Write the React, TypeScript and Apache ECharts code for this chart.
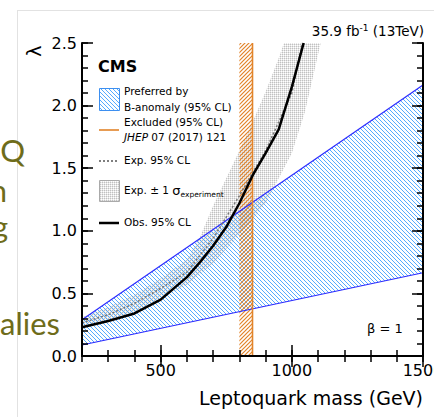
import React, { useEffect, useRef } from "react";
import * as echarts from "echarts";

// ---- data ----
const bandMass = [200, 1500];
const bandUpper = [0.29, 2.165];
const bandLower = [0.088, 0.665];

const excludedMass = [800, 850];

const obsMass = [200, 300, 400, 500, 600, 650, 700, 750, 800, 850, 900, 950, 1000, 1045];
const obsLambda = [0.23, 0.28, 0.34, 0.45, 0.63, 0.75, 0.88, 1.03, 1.22, 1.44, 1.62, 1.81, 2.15, 2.5];

const expMass = [200, 300, 400, 500, 600, 700, 800, 900, 1000, 1040];
const expLambda = [0.265, 0.33, 0.42, 0.54, 0.67, 0.94, 1.28, 1.64, 2.1, 2.5];

const sigUpMass = [200, 300, 400, 500, 600, 650, 700, 750, 800, 850, 900, 950, 970];
const sigUp = [0.31, 0.39, 0.49, 0.62, 0.77, 0.95, 1.2, 1.42, 1.64, 1.87, 2.11, 2.38, 2.5];
const sigDownMass = [200, 300, 400, 500, 600, 700, 800, 900, 1000, 1050, 1110];
const sigDown = [0.22, 0.28, 0.35, 0.46, 0.57, 0.74, 0.97, 1.22, 1.62, 1.95, 2.5];

const xMajorTicks = [500, 1000, 1500];

const FONT = "DejaVu Sans";

function hatch(color: string, n: number, dir: "back" | "fwd", lw: number) {
  const c = document.createElement("canvas");
  c.width = n;
  c.height = n;
  const ctx = c.getContext("2d")!;
  ctx.strokeStyle = color;
  ctx.lineWidth = lw;
  for (let k = -2; k <= 2; k++) {
    ctx.beginPath();
    if (dir === "back") {
      ctx.moveTo(k * n - n, -n);
      ctx.lineTo(k * n + 2 * n, 2 * n);
    } else {
      ctx.moveTo(k * n - n, 2 * n);
      ctx.lineTo(k * n + 2 * n, -n);
    }
    ctx.stroke();
  }
  return { image: c, repeat: "repeat", imageWidth: n, imageHeight: n } as any;
}

function dots() {
  const c = document.createElement("canvas");
  c.width = 2;
  c.height = 2;
  const ctx = c.getContext("2d")!;
  ctx.fillStyle = "rgba(160,160,160,0.65)";
  ctx.fillRect(0, 0, 1, 1);
  ctx.fillStyle = "rgba(200,200,200,0.45)";
  ctx.fillRect(1, 0, 1, 1);
  ctx.fillRect(0, 1, 1, 1);
  return { image: c, repeat: "repeat", imageWidth: 2, imageHeight: 2 } as any;
}

export default function App() {
  const ref = useRef<HTMLDivElement>(null);
  useEffect(() => {
    if (!ref.current) return;
    const chart = echarts.init(ref.current, undefined, { renderer: "svg" });
    const blueHatch = hatch("#42a2ff", 4, "back", 0.9);
    const orangeHatch = hatch("#e2842a", 4, "fwd", 1.2);
    const grayDots = dots();

    const polySeries = (pts: number[][], fill: any, z: number) => ({
      type: "custom",
      coordinateSystem: "cartesian2d",
      xAxisIndex: 0,
      yAxisIndex: 0,
      data: [[pts[0][0], pts[0][1]]],
      encode: { x: 0, y: 1 },
      clip: true,
      silent: true,
      z,
      renderItem: (_p: any, api: any) => ({
        type: "polygon",
        shape: { points: pts.map((p) => api.coord(p)) },
        style: { fill, stroke: "none" },
      }),
    });

    const bandPts = [
      ...bandMass.map((m, i) => [m, bandUpper[i]]),
      ...bandMass.map((m, i) => [m, bandLower[i]]).reverse(),
    ];
    const sigPts = [
      ...sigUpMass.map((m, i) => [m, sigUp[i]]),
      ...sigDownMass.map((m, i) => [m, sigDown[i]]).reverse(),
    ];
    const exclPts = [
      [excludedMass[0], 0],
      [excludedMass[1], 0],
      [excludedMass[1], 2.5],
      [excludedMass[0], 2.5],
    ];

    const gridRect = { left: 82, top: 43, width: 341, height: 313, outerBoundsMode: "none", containLabel: false };
    const minorTick = { show: true, inside: true, length: 6, lineStyle: { color: "#000", width: 1.5 } };
    const majorTick = { show: true, inside: true, length: 11, lineStyle: { color: "#000", width: 1.5 } };
    const frameLine = { show: true, lineStyle: { color: "#000", width: 2 } };
    const lbl = { fontFamily: FONT, fontSize: 16, color: "#000" };

    const xBase = { type: "value", min: 200, max: 1500, splitLine: { show: false }, z: 10 };
    const yBase = { type: "value", min: 0, max: 2.5, splitLine: { show: false }, z: 10 };

    const text = (t: string, x: number, y: number, extra: any = {}) => ({
      type: "text",
      x,
      y,
      z: 100,
      style: {
        text: t,
        fontFamily: FONT,
        fontSize: 10.5,
        fill: "#000",
        align: "left",
        verticalAlign: "middle",
        ...extra,
      },
    });
    const olive = (t: string, x: number, y: number) => ({
      type: "text",
      x,
      y,
      z: 100,
      style: { text: t, fontFamily: "Lato", fontSize: 31, fill: "#6e6c1a", align: "right", verticalAlign: "middle" },
    });

    const option: any = {
      animation: false,
      backgroundColor: "#fff",
      grid: [gridRect, { ...gridRect }],
      xAxis: [
        { ...xBase, gridIndex: 0, position: "bottom", interval: 100, axisLine: frameLine, axisTick: minorTick, axisLabel: { show: false } },
        { ...xBase, gridIndex: 0, position: "top", interval: 100, axisLine: frameLine, axisTick: minorTick, axisLabel: { show: false } },
        {
          ...xBase,
          gridIndex: 1,
          position: "bottom",
          axisLine: { show: false },
          axisTick: { ...majorTick, customValues: xMajorTicks },
          axisLabel: {
            ...lbl,
            margin: 6,
            customValues: xMajorTicks,
            showMaxLabel: true,
            showMinLabel: true,
            formatter: (v: number) => String(Math.round(v)),
          },
        },
        {
          ...xBase,
          gridIndex: 1,
          position: "top",
          axisLine: { show: false },
          axisTick: { ...majorTick, customValues: xMajorTicks },
          axisLabel: { show: false },
        },
      ],
      yAxis: [
        { ...yBase, gridIndex: 0, position: "left", interval: 0.1, axisLine: frameLine, axisTick: minorTick, axisLabel: { show: false } },
        { ...yBase, gridIndex: 0, position: "right", interval: 0.1, axisLine: frameLine, axisTick: minorTick, axisLabel: { show: false } },
        {
          ...yBase,
          gridIndex: 1,
          position: "left",
          interval: 0.5,
          axisLine: { show: false },
          axisTick: majorTick,
          axisLabel: { ...lbl, margin: 5, formatter: (v: number) => v.toFixed(1) },
        },
        { ...yBase, gridIndex: 1, position: "right", interval: 0.5, axisLine: { show: false }, axisTick: majorTick, axisLabel: { show: false } },
      ],
      series: [
        polySeries(sigPts, grayDots, 1),
        polySeries(bandPts, blueHatch, 2),
        {
          type: "line",
          xAxisIndex: 0,
          yAxisIndex: 0,
          data: bandMass.map((m, i) => [m, bandUpper[i]]),
          symbol: "none",
          lineStyle: { color: "#2b2bff", width: 1.2 },
          z: 3,
          silent: true,
        },
        {
          type: "line",
          xAxisIndex: 0,
          yAxisIndex: 0,
          data: bandMass.map((m, i) => [m, bandLower[i]]),
          symbol: "none",
          lineStyle: { color: "#2b2bff", width: 1.2 },
          z: 3,
          silent: true,
        },
        polySeries(exclPts, orangeHatch, 3),
        {
          type: "line",
          xAxisIndex: 0,
          yAxisIndex: 0,
          data: [
            [excludedMass[1], 0],
            [excludedMass[1], 2.5],
          ],
          symbol: "none",
          lineStyle: { color: "#e2842a", width: 1.6 },
          z: 4,
          silent: true,
        },
        {
          type: "line",
          xAxisIndex: 0,
          yAxisIndex: 0,
          data: expMass.map((m, i) => [m, expLambda[i]]),
          symbol: "none",
          lineStyle: { color: "#777", width: 1.5, type: [2, 2] },
          z: 5,
          silent: true,
        },
        {
          type: "line",
          xAxisIndex: 0,
          yAxisIndex: 0,
          data: obsMass.map((m, i) => [m, obsLambda[i]]),
          symbol: "none",
          lineStyle: { color: "#000", width: 2.5 },
          z: 6,
          silent: true,
        },
      ],
      graphic: {
        elements: [
          { type: "line", z: 0, shape: { x1: 17, y1: 10.5, x2: 434, y2: 10.5 }, style: { stroke: "#e2e2e2", lineWidth: 1 } },
          { type: "line", z: 0, shape: { x1: 17.5, y1: 10, x2: 17.5, y2: 417 }, style: { stroke: "#e2e2e2", lineWidth: 1 } },
          olive("Q", 25, 150),
          olive("n", 7, 190),
          olive("g", 8, 226),
          olive("alies", 60, 323),
          {
            type: "text",
            x: 34,
            y: 51,
            rotation: Math.PI / 2,
            z: 100,
            style: { text: "λ", fontFamily: FONT, fontSize: 19, fill: "#000", align: "center", verticalAlign: "middle" },
          },
          {
            type: "text",
            x: 424,
            y: 31,
            z: 100,
            style: {
              text: "{a|35.9 fb}{s|-1}{a| (13TeV)}",
              align: "right",
              verticalAlign: "middle",
              rich: {
                a: { fontFamily: FONT, fontSize: 13.5, fill: "#000", lineHeight: 16 },
                s: { fontFamily: FONT, fontSize: 9, fill: "#000", lineHeight: 10, verticalAlign: "top" },
              },
            },
          },
          text("Leptoquark mass (GeV)", 423, 398, { fontSize: 19, align: "right" }),
          text("CMS", 98, 66, { fontSize: 16, fontWeight: "bold" }),
          { type: "rect", z: 100, shape: { x: 99.5, y: 88.5, width: 20, height: 22 }, style: { fill: blueHatch, stroke: "#3d8ff0", lineWidth: 1 } },
          text("Preferred by", 124, 91),
          text("B-anomaly (95% CL)", 124, 106.5),
          { type: "line", z: 100, shape: { x1: 99, y1: 130, x2: 119, y2: 130 }, style: { stroke: "#e2842a", lineWidth: 1.6 } },
          text("Excluded (95% CL)", 124, 122),
          {
            type: "text",
            x: 124,
            y: 137,
            z: 100,
            style: {
              text: "{i|JHEP}{a| 07 (2017) 121}",
              align: "left",
              verticalAlign: "middle",
              rich: {
                i: { fontFamily: FONT, fontSize: 10.5, fontStyle: "italic", fill: "#000" },
                a: { fontFamily: FONT, fontSize: 10.5, fill: "#000" },
              },
            },
          },
          { type: "line", z: 100, shape: { x1: 99, y1: 161, x2: 119, y2: 161 }, style: { stroke: "#555", lineWidth: 1.5, lineDash: [2, 2] } },
          text("Exp. 95% CL", 124, 160),
          { type: "rect", z: 100, shape: { x: 99.5, y: 180.5, width: 20, height: 21 }, style: { fill: grayDots, stroke: "#aaa", lineWidth: 1 } },
          {
            type: "text",
            x: 124,
            y: 190,
            z: 100,
            style: {
              text: "{a|Exp. ± 1 }{g|σ}{s|experiment}",
              align: "left",
              verticalAlign: "middle",
              rich: {
                a: { fontFamily: FONT, fontSize: 10.5, fill: "#000", lineHeight: 16 },
                g: { fontFamily: FONT, fontSize: 13, fill: "#000", lineHeight: 16 },
                s: { fontFamily: FONT, fontSize: 7.5, fill: "#000", lineHeight: 9, verticalAlign: "bottom" },
              },
            },
          },
          { type: "line", z: 100, shape: { x1: 99, y1: 223, x2: 119, y2: 223 }, style: { stroke: "#000", lineWidth: 2.5 } },
          text("Obs. 95% CL", 124, 222),
          text("β = 1", 367, 328, { fontSize: 13 }),
        ],
      },
    };
    chart.setOption(option);
    return () => chart.dispose();
  }, []);
  return <div ref={ref} style={{ position: "absolute", left: 0, top: 0, width: 434, height: 417 }} />;
}
